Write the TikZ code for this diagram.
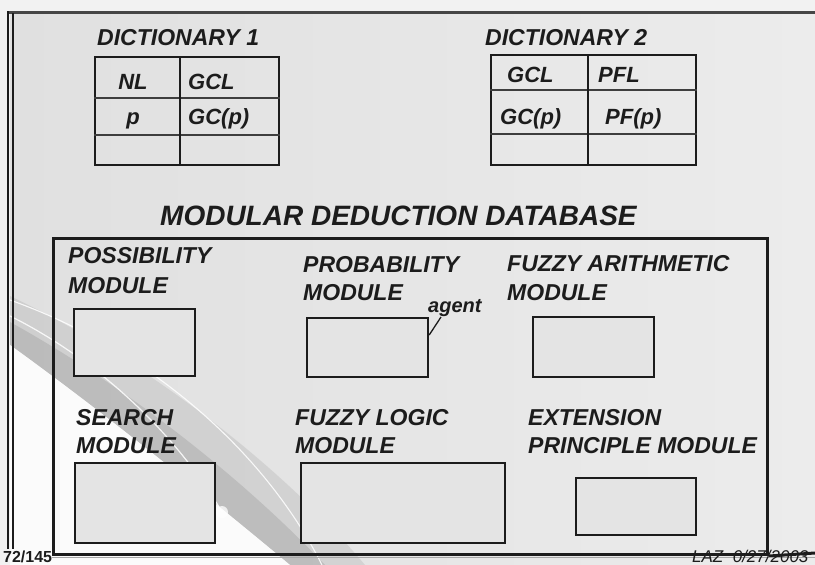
\documentclass[tikz,border=0pt]{standalone}
\usepackage{fontspec}
\setmainfont{Liberation Sans}
\definecolor{ink}{RGB}{28,28,28}
\definecolor{bgleft}{RGB}{224,224,224}
\definecolor{bgright}{RGB}{236,236,236}
\definecolor{boxfill}{RGB}{228,228,228}
\definecolor{paper}{RGB}{242,242,242}
\begin{document}
\begin{tikzpicture}[x=1pt,y=-1pt,
  lbl/.style={anchor=base west,inner sep=0pt,text=ink,
    font=\fontsize{23}{23}\selectfont\bfseries\itshape},
  cell/.style={inner sep=0pt,text=ink,
    font=\fontsize{22}{22}\selectfont\bfseries\itshape},
  modbox/.style={draw=ink,line width=2.2pt,fill=boxfill,anchor=north west,inner sep=0pt},
  tabframe/.style={draw=ink,line width=2.4pt,anchor=north west,inner sep=0pt},
  rowrule/.style={draw=ink!85,line width=1.8pt},
  footer/.style={anchor=base west,inner sep=0pt,text=ink,
    font=\fontsize{17}{17}\selectfont}]
\useasboundingbox (0,0) rectangle (815,565);
\clip (0,0) rectangle (815,565);

% slide background
\fill[paper] (0,0) rectangle (815,565);
\shade[left color=bgleft,right color=bgright] (10,12) rectangle (815,565);

% swoosh in the lower left corner
\fill[gray!60,opacity=0.35] (10,296) .. controls (135,355) and (275,458) .. (365,565)
  -- (290,565) .. controls (200,490) and (100,410) .. (10,345) -- cycle;
\fill[gray!75,opacity=0.40] (10,322) .. controls (115,380) and (235,470) .. (325,565)
  -- (290,565) .. controls (200,490) and (100,410) .. (10,345) -- cycle;
\fill[white!97!gray] (10,345) .. controls (100,410) and (200,490) .. (290,565)
  -- (10,565) -- cycle;
\draw[white,line width=1.2pt,opacity=0.85] (10,316) .. controls (95,358) and (175,432) .. (222,512);
\draw[white,line width=1.1pt,opacity=0.85] (10,300) .. controls (150,350) and (265,452) .. (322,565);
\fill[white,opacity=0.75] (222,512) circle (6);

% slide frame
\draw[gray!55!black,line width=3.2pt] (8,12.5) -- (815,12.5);
\draw[ink,line width=1.8pt] (8,11) -- (8,549);
\draw[ink,line width=2pt] (12.5,13) -- (12.5,549);

% ---- dictionary 1 ----
\node[lbl] (d1title) at (97,45) {DICTIONARY 1};
\node[tabframe,minimum width=184,minimum height=108] (d1) at (94,56) {};
\draw[rowrule] (d1.north west |- 0,98) -- (d1.north east |- 0,98);
\draw[rowrule] (d1.north west |- 0,135) -- (d1.north east |- 0,135);
\draw[ink,line width=2.2pt] (180,56) -- (180,164);
\node[cell,anchor=base] (d1a) at (133,89) {NL};
\node[cell,anchor=base west] (d1b) at (188,89) {GCL};
\node[cell,anchor=base] (d1c) at (133,124) {p};
\node[cell,anchor=base west] (d1d) at (188,124) {GC(p)};

% ---- dictionary 2 ----
\node[lbl] (d2title) at (485,45) {DICTIONARY 2};
\node[tabframe,minimum width=205,minimum height=110] (d2) at (490,54) {};
\draw[rowrule] (d2.north west |- 0,90) -- (d2.north east |- 0,90);
\draw[rowrule] (d2.north west |- 0,134) -- (d2.north east |- 0,134);
\draw[ink,line width=2.2pt] (588,54) -- (588,164);
\node[cell,anchor=base west] (d2a) at (507,82) {GCL};
\node[cell,anchor=base west] (d2b) at (598,82) {PFL};
\node[cell,anchor=base west] (d2c) at (500,124) {GC(p)};
\node[cell,anchor=base west] (d2d) at (605,124) {PF(p)};

% ---- modular deduction database ----
\node[anchor=base west,inner sep=0pt,text=ink,
  font=\fontsize{28}{28}\selectfont\bfseries\itshape] (dbtitle) at (160,225)
  {MODULAR DEDUCTION DATABASE};
\node[draw=ink,line width=3pt,anchor=north west,inner sep=0pt,
  minimum width=714,minimum height=316] (db) at (52,237) {};
\draw[ink,line width=3pt] (db.south east) -- (815,553);
\draw[gray!70,line width=1pt] (52,557) -- (815,557);

% modules, first row
\node[lbl] (posst) at (68,263) {POSSIBILITY};
\node[lbl] (possm) at (68,293) {MODULE};
\node[modbox,minimum width=121,minimum height=67] (possbox) at (73,308) {};

\node[lbl] (probt) at (303,272) {PROBABILITY};
\node[lbl] (probm) at (303,300) {MODULE};
\node[modbox,minimum width=121,minimum height=59] (probbox) at (306,317) {};
\node[anchor=base west,inner sep=0pt,text=ink,
  font=\fontsize{20}{20}\selectfont\bfseries\itshape] (agent) at (428,312) {agent};
\draw[ink,line width=1.3pt] ([yshift=-18pt]probbox.north east) -- ([xshift=13pt,yshift=-5pt]agent.base west);

\node[lbl] (fart) at (507,271) {FUZZY ARITHMETIC};
\node[lbl] (farm) at (507,300) {MODULE};
\node[modbox,minimum width=121,minimum height=60] (farbox) at (532,316) {};

% modules, second row
\node[lbl] (srcht) at (76,425) {SEARCH};
\node[lbl] (srchm) at (76,453) {MODULE};
\node[modbox,minimum width=140,minimum height=80] (srchbox) at (74,462) {};

\node[lbl] (flt) at (295,425) {FUZZY LOGIC};
\node[lbl] (flm) at (295,453) {MODULE};
\node[modbox,minimum width=204,minimum height=80] (flbox) at (300,462) {};

\node[lbl] (ept) at (528,425) {EXTENSION};
\node[lbl] (epm) at (528,453) {PRINCIPLE MODULE};
\node[modbox,minimum width=120,minimum height=57] (epbox) at (575,477) {};

% footer
\node[footer,font=\fontsize{16}{16}\selectfont\bfseries] (pageno) at (3,562) {72/145};
\node[footer,font=\fontsize{17}{17}\selectfont\itshape] (stamp) at (692,562) {LAZ\ \ 0/27/2003};
\end{tikzpicture}
\end{document}
